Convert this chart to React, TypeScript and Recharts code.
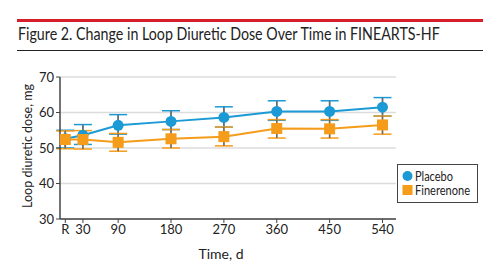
import React, { useLayoutEffect, useRef, useState } from "react";
import {
  LineChart,
  Line,
  XAxis,
  YAxis,
  CartesianGrid,
  ErrorBar,
  Legend,
} from "recharts";

// days since randomization (0 = R)
const days = [0, 30, 90, 180, 270, 360, 450, 540];

const placeboMean = [52.6, 53.6, 56.4, 57.5, 58.6, 60.3, 60.3, 61.5];
const placeboLow = [50.0, 51.0, 53.9, 55.2, 55.9, 57.8, 57.8, 59.0];
const placeboHigh = [55.0, 56.6, 59.4, 60.5, 61.6, 63.3, 63.3, 64.2];

const fineMean = [52.4, 52.4, 51.6, 52.6, 53.2, 55.5, 55.4, 56.5];
const fineLow = [49.8, 49.7, 49.1, 50.0, 50.6, 52.8, 52.8, 53.9];
const fineHigh = [54.8, 54.9, 54.1, 55.2, 55.9, 58.0, 58.0, 59.0];

const yTicks = [30, 40, 50, 60, 70];

const BLUE = "#1b9ad6";
const ORANGE = "#f59c1a";
const GRAY = "#6b6b6b";
const FONT = "Lato, 'Noto Sans', sans-serif";

const data = days.map((d, i) => ({
  day: d,
  placebo: placeboMean[i],
  placeboErr: [placeboMean[i] - placeboLow[i], placeboHigh[i] - placeboMean[i]],
  finerenone: fineMean[i],
  fineErr: [fineMean[i] - fineLow[i], fineHigh[i] - fineMean[i]],
}));

// text squeezed horizontally to a given width (the journal face is condensed)
const FitText = ({ x, y, width, angle = 0, anchor = "start", size, children }: any) => {
  const ref = useRef<SVGTextElement>(null);
  const [k, setK] = useState(1);
  useLayoutEffect(() => {
    if (ref.current) {
      const w = ref.current.getComputedTextLength();
      if (w > 0) setK(width / w);
    }
  }, [width]);
  return (
    <text
      ref={ref}
      x={0}
      y={0}
      transform={`translate(${x}, ${y}) rotate(${angle}) scale(${k}, 1)`}
      textAnchor={anchor}
      fontFamily={FONT}
      fontSize={size}
      fill="#222"
    >
      {children}
    </text>
  );
};

const CircleDot = (props: any) => {
  const { cx, cy } = props;
  if (cx == null || cy == null) return null;
  return <circle cx={cx} cy={cy} r={5.5} fill={BLUE} />;
};

const SquareDot = (props: any) => {
  const { cx, cy } = props;
  if (cx == null || cy == null) return null;
  return <rect x={cx - 5.5} y={cy - 5.5} width={11} height={11} fill={ORANGE} />;
};

const LegendBox = () => (
  <svg width={82} height={40} style={{ display: "block" }}>
    <rect x={0.5} y={0.5} width={80} height={38} fill="#fff" stroke="#444" strokeWidth={1} />
    <circle cx={10.5} cy={12} r={5} fill={BLUE} />
    <FitText x={18} y={17} width={38} size={14}>
      Placebo
    </FitText>
    <rect x={5.5} y={21} width={10} height={10} fill={ORANGE} />
    <FitText x={18} y={31} width={55} size={14}>
      Finerenone
    </FitText>
  </svg>
);

const YTitle = (props: any) => {
  const { viewBox } = props;
  const x = viewBox.x + 12;
  const y = viewBox.y + viewBox.height / 2 - 2;
  return (
    <FitText x={x} y={y} width={124} angle={-90} anchor="middle" size={14}>
      Loop diuretic dose, mg
    </FitText>
  );
};

export default function App() {
  return (
    <div
      style={{
        position: "absolute",
        left: 0,
        top: 0,
        width: 500,
        height: 271,
        background: "#fff",
        overflow: "hidden",
      }}
    >
      <svg
        width={500}
        height={60}
        style={{ position: "absolute", left: 0, top: 0 }}
      >
        <rect x={17} y={19} width={466} height={3} fill="#d71f2b" />
        <FitText x={18} y={40} width={422} size={17}>
          Figure 2. Change in Loop Diuretic Dose Over Time in FINEARTS-HF
        </FitText>
        <rect x={17} y={50} width={466} height={1} fill="#222" />
      </svg>
      <div style={{ position: "absolute", left: 0, top: 0 }}>
        <LineChart
          width={500}
          height={271}
          data={data}
          margin={{ top: 77, right: 22, bottom: 22, left: 20 }}
        >
          <CartesianGrid
            vertical={false}
            stroke="#dcdcdc"
            strokeWidth={1.5}
          />
          <XAxis
            dataKey="day"
            type="number"
            domain={[-9, 563]}
            ticks={days}
            tickFormatter={(v: number) => (v === 0 ? "R" : String(v))}
            height={30}
            axisLine={{ stroke: "#444", strokeWidth: 1.5 }}
            tickLine={{ stroke: "#444" }}
            tickSize={4}
            tick={{ fontFamily: FONT, fontSize: 13, fill: "#222" }}
            label={{
              value: "Time, d",
              position: "insideBottom",
              offset: -10,
              dx: -7,
              fontFamily: FONT,
              fontSize: 14,
              fill: "#222",
            }}
          />
          <YAxis
            type="number"
            domain={[30, 70]}
            ticks={yTicks}
            width={40}
            axisLine={{ stroke: "#444", strokeWidth: 1.5 }}
            tickLine={{ stroke: "#444" }}
            tickSize={4}
            tick={{ fontFamily: FONT, fontSize: 13, fill: "#222" }}
            label={{ content: YTitle }}
          />
          <Legend
            layout="horizontal"
            verticalAlign="middle"
            align="right"
            content={LegendBox}
            wrapperStyle={{ left: 397, top: 164, right: "auto", width: 82 }}
          />
          <Line
            dataKey="placebo"
            stroke={BLUE}
            strokeWidth={2}
            dot={CircleDot}
            activeDot={false}
            isAnimationActive={false}
          >
            <ErrorBar dataKey="placeboErr" width={9} stroke={BLUE} strokeWidth={1.5} />
            <ErrorBar dataKey="placeboErr" width={0} stroke={GRAY} strokeWidth={1.5} />
          </Line>
          <Line
            dataKey="finerenone"
            stroke={ORANGE}
            strokeWidth={2}
            dot={SquareDot}
            activeDot={false}
            isAnimationActive={false}
          >
            <ErrorBar dataKey="fineErr" width={9} stroke={ORANGE} strokeWidth={1.5} />
            <ErrorBar dataKey="fineErr" width={0} stroke={GRAY} strokeWidth={1.5} />
          </Line>
        </LineChart>
      </div>
    </div>
  );
}
